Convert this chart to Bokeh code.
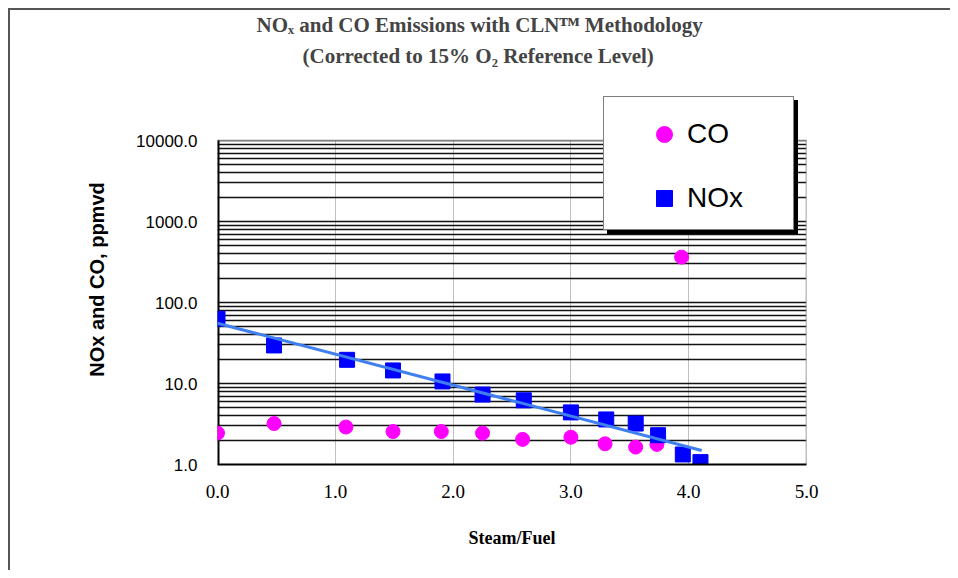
from bokeh.plotting import figure
from bokeh.models import FixedTicker, Legend, LegendItem, Title, InlineStyleSheet
from bokeh.embed import file_html
from bokeh.resources import INLINE

# ---- data ----
steam_fuel_nox = [0.0, 0.48, 1.10, 1.49, 1.91, 2.25, 2.60, 3.00, 3.30, 3.55, 3.74, 3.95, 4.10]
nox_ppmvd = [63.0, 29.5, 19.6, 14.5, 10.6, 7.3, 6.2, 4.4, 3.6, 3.2, 2.3, 1.33, 1.07]

steam_fuel_co = [0.0, 0.48, 1.09, 1.49, 1.90, 2.25, 2.59, 3.00, 3.29, 3.55, 3.73, 3.94]
co_ppmvd = [2.44, 3.2, 2.9, 2.55, 2.55, 2.44, 2.04, 2.17, 1.8, 1.64, 1.77, 363.0]

trend_x = [0.0, 4.11]
trend_y = [55.5, 1.49]

series_names = ["CO", "NOx"]

x_ticks = [0, 1, 2, 3, 4, 5]
x_tick_labels = ["0.0", "1.0", "2.0", "3.0", "4.0", "5.0"]
y_ticks = [1, 10, 100, 1000, 10000]
y_tick_labels = ["1.0", "10.0", "100.0", "1000.0", "10000.0"]
y_minor = [m * 10 ** k for k in range(4) for m in range(2, 10)]

title_text = "NOₓ and CO Emissions with CLNᵀᴹ Methodology"
subtitle_text = "(Corrected to 15% O₂ Reference Level)"
x_label = "Steam/Fuel"
y_label = "NOx and CO, ppmvd"

# axis extents: the plot area runs 0..5 and 1..10000; the frame is extended
# above 10000 (and masked white) so that the legend box can overlap the top edge
x_min, x_max = 0, 5
y_min, y_max = 1, 10000
y_frame_top = y_max * 10 ** (46 / 81)

p = figure(width=942, height=562, x_range=(x_min, x_max), y_range=(y_min, y_frame_top),
           y_axis_type="log", output_backend="svg", toolbar_location=None,
           min_border_left=209, min_border_right=144,
           min_border_top=86, min_border_bottom=106)

p.styles = {"margin-left": "8px", "margin-top": "8px"}
p.stylesheets = [InlineStyleSheet(css=":host { box-shadow: inset 2px 2px 0px 0px #555555; }")]
p.background_fill_color = "white"
p.border_fill_color = None
p.outline_line_color = None

# titles
p.title.text = title_text
p.title.align = "left"
p.title.offset = 39
p.title.text_font = "Liberation Serif"
p.title.text_font_style = "bold"
p.title.text_font_size = "21px"
p.title.standoff = -43
sub = Title(text=subtitle_text, align="left", offset=85, text_font="Liberation Serif",
            text_font_style="bold", text_font_size="21px", standoff=53)
p.add_layout(sub, "above")

# axes
p.xaxis.ticker = FixedTicker(ticks=x_ticks)
p.xaxis.major_label_overrides = {t: s for t, s in zip(x_ticks, x_tick_labels)}
p.yaxis.ticker = FixedTicker(ticks=y_ticks, minor_ticks=y_minor)
p.yaxis.major_label_overrides = {t: s for t, s in zip(y_ticks, y_tick_labels)}

for ax in (p.xaxis[0], p.yaxis[0]):
    ax.axis_line_color = "black"
    ax.axis_line_width = 2
    ax.major_tick_out = 0
    ax.major_tick_in = 0
    ax.minor_tick_out = 0
    ax.minor_tick_in = 0
    ax.major_label_text_color = "black"
    ax.axis_label_text_color = "black"
    ax.axis_label_text_font_style = "bold"
p.yaxis.axis_line_color = None

p.xaxis.major_label_text_font = "Liberation Serif"
p.xaxis.major_label_text_font_size = "19px"
p.xaxis.major_label_standoff = 20
p.xaxis.axis_label = x_label
p.xaxis.axis_label_text_font = "Liberation Serif"
p.xaxis.axis_label_text_font_size = "18px"
p.xaxis.axis_label_standoff = 27

p.yaxis.major_label_text_font = "Liberation Sans"
p.yaxis.major_label_text_font_size = "17px"
p.yaxis.major_label_standoff = 20
p.yaxis.axis_label = y_label
p.yaxis.axis_label_text_font = "Liberation Sans"
p.yaxis.axis_label_text_font_size = "20px"
p.yaxis.axis_label_standoff = 25

# grids
p.xgrid.grid_line_color = "#c0c0c0"
p.xgrid.grid_line_width = 1
p.ygrid.grid_line_color = "#111111"
p.ygrid.grid_line_width = 1.3
p.ygrid.minor_grid_line_color = "#111111"
p.ygrid.minor_grid_line_width = 1.3

# mask above the plot area, plot-area border lines
p.quad(left=[x_min], right=[x_max], bottom=[y_max], top=[y_frame_top],
       fill_color="white", line_color=None)
p.segment(x0=[x_min, x_max], y0=[y_max, y_min], x1=[x_max, x_max], y1=[y_max, y_max],
          line_color="#808080", line_width=1.5)
p.segment(x0=[x_min], y0=[y_min], x1=[x_min], y1=[y_max],
          line_color="black", line_width=4)

# series
r_co = p.scatter(steam_fuel_co, co_ppmvd, marker="circle", size=14,
                 fill_color="#ff00ff", line_color="#ff00ff")
r_nox = p.scatter(steam_fuel_nox, nox_ppmvd, marker="square", size=15,
                  fill_color="#0000ff", line_color="#0000ff")
p.line(trend_x, trend_y, line_color="#3f7fef", line_width=3)

# invisible renderer used only to size the legend box and its shadow
r_blank = p.scatter(x=[], y=[], size=0, fill_alpha=0, line_alpha=0)

# legend: black shadow box, white bordered box, then the labelled items
box_kw = dict(padding=14, spacing=24, glyph_height=40, glyph_width=92,
              label_standoff=0, label_width=69, label_height=40, margin=0,
              border_line_width=1.5, label_text_font_size="28px")

shadow = Legend(items=[LegendItem(label=" ", renderers=[r_blank]),
                       LegendItem(label=" ", renderers=[r_blank])],
                location=(390, 230), background_fill_color="black",
                background_fill_alpha=1, border_line_color="black", **box_kw)
p.add_layout(shadow, "center")

box = Legend(items=[LegendItem(label=" ", renderers=[r_blank]),
                    LegendItem(label=" ", renderers=[r_blank])],
             location=(386, 234), background_fill_color="white",
             background_fill_alpha=1, border_line_color="black", **box_kw)
p.add_layout(box, "center")

legend = Legend(items=[LegendItem(label=series_names[0], renderers=[r_co]),
                       LegendItem(label=series_names[1], renderers=[r_nox])],
                location=(427, 246), background_fill_alpha=0, border_line_color=None,
                padding=14, spacing=24, glyph_height=40, glyph_width=40,
                label_standoff=3, label_height=40, margin=0,
                label_text_font="Liberation Sans", label_text_font_size="28px",
                label_text_color="black")
p.add_layout(legend, "center")

open("out.html", "w").write(file_html(p, INLINE))
